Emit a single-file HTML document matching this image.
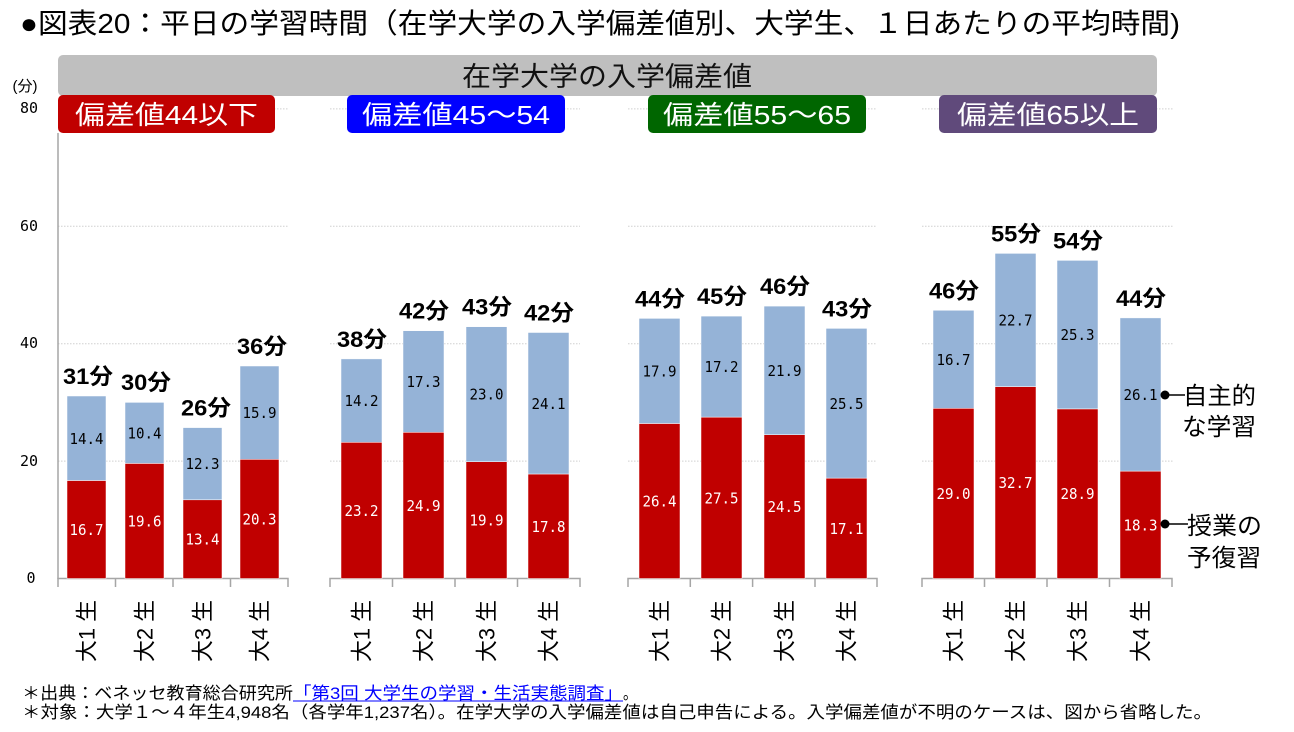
<!DOCTYPE html>
<html><head><meta charset="utf-8"><style>
html,body{margin:0;padding:0;background:#fff;}
svg{display:block;}
text{font-family:"Liberation Sans","Noto Sans CJK JP",sans-serif;}
.v{font-family:"DejaVu Sans Mono","Liberation Mono","Noto Sans CJK JP",monospace;font-size:15px;text-anchor:middle;}
.yt{font-family:"DejaVu Sans Mono","Liberation Mono",monospace;font-size:15px;text-anchor:middle;}
.w{fill:#fff;}
.t{font-weight:bold;font-size:22px;text-anchor:middle;}
.g{stroke:#d0d0d0;stroke-width:1;stroke-dasharray:1.5 1.5;}
.ax{stroke:#a6a6a6;stroke-width:1.5;fill:none;}
.xl{font-size:22px;text-anchor:middle;}
</style></head><body>
<svg width="1294" height="732" viewBox="0 0 1294 732" xmlns="http://www.w3.org/2000/svg">
<rect width="1294" height="732" fill="#fff"/>
<!-- title -->
<text x="20" y="33" font-size="28" textLength="1160" lengthAdjust="spacingAndGlyphs">●図表20：平日の学習時間（在学大学の入学偏差値別、大学生、１日あたりの平均時間)</text>

<!-- gridlines -->
<g class="g">
<line x1="58" y1="461.1" x2="288" y2="461.1"/><line x1="58" y1="343.7" x2="288" y2="343.7"/><line x1="58" y1="226.3" x2="288" y2="226.3"/><line x1="58" y1="108.9" x2="288" y2="108.9"/>
<line x1="330" y1="461.1" x2="580" y2="461.1"/><line x1="330" y1="343.7" x2="580" y2="343.7"/><line x1="330" y1="226.3" x2="580" y2="226.3"/><line x1="330" y1="108.9" x2="580" y2="108.9"/>
<line x1="628" y1="461.1" x2="877" y2="461.1"/><line x1="628" y1="343.7" x2="877" y2="343.7"/><line x1="628" y1="226.3" x2="877" y2="226.3"/><line x1="628" y1="108.9" x2="877" y2="108.9"/>
<line x1="922" y1="461.1" x2="1173" y2="461.1"/><line x1="922" y1="343.7" x2="1173" y2="343.7"/><line x1="922" y1="226.3" x2="1173" y2="226.3"/><line x1="922" y1="108.9" x2="1173" y2="108.9"/>
</g>

<!-- header boxes -->
<rect x="58" y="55" width="1099" height="41" rx="5" fill="#bfbfbf"/>
<text x="607" y="86" font-size="27" text-anchor="middle" textLength="290" lengthAdjust="spacingAndGlyphs" fill="#111">在学大学の入学偏差値</text>
<rect x="58" y="95" width="217" height="38" rx="5" fill="#c00000"/>
<text x="166.5" y="124" font-size="26" text-anchor="middle" fill="#fff" textLength="183" lengthAdjust="spacingAndGlyphs">偏差値44以下</text>
<rect x="347" y="95" width="218" height="38" rx="5" fill="#0000ff"/>
<text x="456" y="124" font-size="26" text-anchor="middle" fill="#fff" textLength="188" lengthAdjust="spacingAndGlyphs">偏差値45～54</text>
<rect x="648" y="95" width="218" height="38" rx="5" fill="#006600"/>
<text x="757" y="124" font-size="26" text-anchor="middle" fill="#fff" textLength="188" lengthAdjust="spacingAndGlyphs">偏差値55～65</text>
<rect x="939" y="95" width="218" height="38" rx="5" fill="#604a7b"/>
<text x="1048" y="124" font-size="26" text-anchor="middle" fill="#fff" textLength="182" lengthAdjust="spacingAndGlyphs">偏差値65以上</text>

<!-- y axis labels -->
<text x="25" y="91" font-size="15" text-anchor="middle">(分)</text>
<text class="yt" x="29" y="113">80</text>
<text class="yt" x="29" y="231">60</text>
<text class="yt" x="29" y="348">40</text>
<text class="yt" x="29" y="466">20</text>
<text class="yt" x="31" y="583">0</text>

<!-- axes -->
<line class="ax" x1="58" y1="133" x2="58" y2="579"/>
<path class="ax" d="M58,587V578.5H288V587M115.5,578.5V587M173,578.5V587M230.5,578.5V587"/>
<path class="ax" d="M330,587V578.5H580V587M392.5,578.5V587M455,578.5V587M517.5,578.5V587"/>
<path class="ax" d="M628,587V578.5H877V587M690.3,578.5V587M752.6,578.5V587M815,578.5V587"/>
<path class="ax" d="M922,587V578.5H1172V587M984.5,578.5V587M1047,578.5V587M1109.5,578.5V587"/>

<!-- bars -->
<g stroke="#ffffff" stroke-width="0.5">
<rect x="67" y="480.5" width="39" height="98" fill="#c00000"/><rect x="67" y="396.0" width="39" height="84.5" fill="#95b3d7"/>
<rect x="125" y="463.4" width="39" height="115.1" fill="#c00000"/><rect x="125" y="402.4" width="39" height="61" fill="#95b3d7"/>
<rect x="183" y="499.8" width="39" height="78.7" fill="#c00000"/><rect x="183" y="427.6" width="39" height="72.2" fill="#95b3d7"/>
<rect x="240" y="459.3" width="39" height="119.2" fill="#c00000"/><rect x="240" y="366.0" width="39" height="93.3" fill="#95b3d7"/>

<rect x="341" y="442.3" width="41" height="136.2" fill="#c00000"/><rect x="341" y="358.9" width="41" height="83.4" fill="#95b3d7"/>
<rect x="403" y="432.3" width="41" height="146.2" fill="#c00000"/><rect x="403" y="330.7" width="41" height="101.6" fill="#95b3d7"/>
<rect x="466" y="461.7" width="41" height="116.8" fill="#c00000"/><rect x="466" y="326.7" width="41" height="135" fill="#95b3d7"/>
<rect x="528" y="474.0" width="41" height="104.5" fill="#c00000"/><rect x="528" y="332.5" width="41" height="141.5" fill="#95b3d7"/>

<rect x="639" y="423.5" width="41" height="155" fill="#c00000"/><rect x="639" y="318.4" width="41" height="105.1" fill="#95b3d7"/>
<rect x="701" y="417.1" width="41" height="161.4" fill="#c00000"/><rect x="701" y="316.1" width="41" height="101" fill="#95b3d7"/>
<rect x="764" y="434.7" width="41" height="143.8" fill="#c00000"/><rect x="764" y="306.1" width="41" height="128.6" fill="#95b3d7"/>
<rect x="826" y="478.1" width="41" height="100.4" fill="#c00000"/><rect x="826" y="328.4" width="41" height="149.7" fill="#95b3d7"/>

<rect x="933" y="408.3" width="41" height="170.2" fill="#c00000"/><rect x="933" y="310.3" width="41" height="98" fill="#95b3d7"/>
<rect x="995" y="386.6" width="41" height="191.9" fill="#c00000"/><rect x="995" y="253.4" width="41" height="133.2" fill="#95b3d7"/>
<rect x="1057" y="408.9" width="41" height="169.6" fill="#c00000"/><rect x="1057" y="260.4" width="41" height="148.5" fill="#95b3d7"/>
<rect x="1120" y="471.1" width="41" height="107.4" fill="#c00000"/><rect x="1120" y="317.9" width="41" height="153.2" fill="#95b3d7"/>
</g>

<!-- value labels -->
<g>
<text class="v w" x="86.5" y="535" textLength="34" lengthAdjust="spacingAndGlyphs">16.7</text><text class="v" x="86.5" y="443.8" textLength="34" lengthAdjust="spacingAndGlyphs">14.4</text>
<text class="v w" x="144.5" y="526.5" textLength="34" lengthAdjust="spacingAndGlyphs">19.6</text><text class="v" x="144.5" y="438.4" textLength="34" lengthAdjust="spacingAndGlyphs">10.4</text>
<text class="v w" x="202.5" y="544.7" textLength="34" lengthAdjust="spacingAndGlyphs">13.4</text><text class="v" x="202.5" y="469.2" textLength="34" lengthAdjust="spacingAndGlyphs">12.3</text>
<text class="v w" x="259.5" y="524.4" textLength="34" lengthAdjust="spacingAndGlyphs">20.3</text><text class="v" x="259.5" y="418.2" textLength="34" lengthAdjust="spacingAndGlyphs">15.9</text>

<text class="v w" x="361.5" y="515.9" textLength="34" lengthAdjust="spacingAndGlyphs">23.2</text><text class="v" x="361.5" y="406.1" textLength="34" lengthAdjust="spacingAndGlyphs">14.2</text>
<text class="v w" x="423.5" y="510.9" textLength="34" lengthAdjust="spacingAndGlyphs">24.9</text><text class="v" x="423.5" y="387" textLength="34" lengthAdjust="spacingAndGlyphs">17.3</text>
<text class="v w" x="486.5" y="525.6" textLength="34" lengthAdjust="spacingAndGlyphs">19.9</text><text class="v" x="486.5" y="399.7" textLength="34" lengthAdjust="spacingAndGlyphs">23.0</text>
<text class="v w" x="548.5" y="531.8" textLength="34" lengthAdjust="spacingAndGlyphs">17.8</text><text class="v" x="548.5" y="408.8" textLength="34" lengthAdjust="spacingAndGlyphs">24.1</text>

<text class="v w" x="659.5" y="506.5" textLength="34" lengthAdjust="spacingAndGlyphs">26.4</text><text class="v" x="659.5" y="376.5" textLength="34" lengthAdjust="spacingAndGlyphs">17.9</text>
<text class="v w" x="721.5" y="503.3" textLength="34" lengthAdjust="spacingAndGlyphs">27.5</text><text class="v" x="721.5" y="372.1" textLength="34" lengthAdjust="spacingAndGlyphs">17.2</text>
<text class="v w" x="784.5" y="512.1" textLength="34" lengthAdjust="spacingAndGlyphs">24.5</text><text class="v" x="784.5" y="375.9" textLength="34" lengthAdjust="spacingAndGlyphs">21.9</text>
<text class="v w" x="846.5" y="533.8" textLength="34" lengthAdjust="spacingAndGlyphs">17.1</text><text class="v" x="846.5" y="408.8" textLength="34" lengthAdjust="spacingAndGlyphs">25.5</text>

<text class="v w" x="953.5" y="498.9" textLength="34" lengthAdjust="spacingAndGlyphs">29.0</text><text class="v" x="953.5" y="364.8" textLength="34" lengthAdjust="spacingAndGlyphs">16.7</text>
<text class="v w" x="1015.5" y="488.1" textLength="34" lengthAdjust="spacingAndGlyphs">32.7</text><text class="v" x="1015.5" y="325.5" textLength="34" lengthAdjust="spacingAndGlyphs">22.7</text>
<text class="v w" x="1077.5" y="499.2" textLength="34" lengthAdjust="spacingAndGlyphs">28.9</text><text class="v" x="1077.5" y="340.2" textLength="34" lengthAdjust="spacingAndGlyphs">25.3</text>
<text class="v w" x="1140.5" y="530.3" textLength="34" lengthAdjust="spacingAndGlyphs">18.3</text><text class="v" x="1140.5" y="400" textLength="34" lengthAdjust="spacingAndGlyphs">26.1</text>
</g>

<!-- totals -->
<g>
<text class="t" x="88" y="384" textLength="50" lengthAdjust="spacingAndGlyphs">31分</text>
<text class="t" x="146" y="390" textLength="50" lengthAdjust="spacingAndGlyphs">30分</text>
<text class="t" x="206" y="415.6" textLength="50" lengthAdjust="spacingAndGlyphs">26分</text>
<text class="t" x="262" y="354" textLength="50" lengthAdjust="spacingAndGlyphs">36分</text>

<text class="t" x="362" y="346.9" textLength="50" lengthAdjust="spacingAndGlyphs">38分</text>
<text class="t" x="424" y="318.7" textLength="50" lengthAdjust="spacingAndGlyphs">42分</text>
<text class="t" x="487" y="314.7" textLength="50" lengthAdjust="spacingAndGlyphs">43分</text>
<text class="t" x="549" y="320.5" textLength="50" lengthAdjust="spacingAndGlyphs">42分</text>

<text class="t" x="660" y="306.4" textLength="50" lengthAdjust="spacingAndGlyphs">44分</text>
<text class="t" x="722" y="304.1" textLength="50" lengthAdjust="spacingAndGlyphs">45分</text>
<text class="t" x="785" y="294.1" textLength="50" lengthAdjust="spacingAndGlyphs">46分</text>
<text class="t" x="847" y="316.4" textLength="50" lengthAdjust="spacingAndGlyphs">43分</text>

<text class="t" x="954" y="298.3" textLength="50" lengthAdjust="spacingAndGlyphs">46分</text>
<text class="t" x="1016" y="241.4" textLength="50" lengthAdjust="spacingAndGlyphs">55分</text>
<text class="t" x="1078" y="248.4" textLength="50" lengthAdjust="spacingAndGlyphs">54分</text>
<text class="t" x="1141" y="305.9" textLength="50" lengthAdjust="spacingAndGlyphs">44分</text>
</g>

<!-- x labels -->
<g>
<text class="xl" transform="translate(94.5,631) rotate(-90)" textLength="62" lengthAdjust="spacingAndGlyphs">大1 生</text>
<text class="xl" transform="translate(152.5,631) rotate(-90)" textLength="62" lengthAdjust="spacingAndGlyphs">大2 生</text>
<text class="xl" transform="translate(210.5,631) rotate(-90)" textLength="62" lengthAdjust="spacingAndGlyphs">大3 生</text>
<text class="xl" transform="translate(267.5,631) rotate(-90)" textLength="62" lengthAdjust="spacingAndGlyphs">大4 生</text>

<text class="xl" transform="translate(369.5,631) rotate(-90)" textLength="62" lengthAdjust="spacingAndGlyphs">大1 生</text>
<text class="xl" transform="translate(431.5,631) rotate(-90)" textLength="62" lengthAdjust="spacingAndGlyphs">大2 生</text>
<text class="xl" transform="translate(494.5,631) rotate(-90)" textLength="62" lengthAdjust="spacingAndGlyphs">大3 生</text>
<text class="xl" transform="translate(556.5,631) rotate(-90)" textLength="62" lengthAdjust="spacingAndGlyphs">大4 生</text>

<text class="xl" transform="translate(667.5,631) rotate(-90)" textLength="62" lengthAdjust="spacingAndGlyphs">大1 生</text>
<text class="xl" transform="translate(729.5,631) rotate(-90)" textLength="62" lengthAdjust="spacingAndGlyphs">大2 生</text>
<text class="xl" transform="translate(792.5,631) rotate(-90)" textLength="62" lengthAdjust="spacingAndGlyphs">大3 生</text>
<text class="xl" transform="translate(854.5,631) rotate(-90)" textLength="62" lengthAdjust="spacingAndGlyphs">大4 生</text>

<text class="xl" transform="translate(961.5,631) rotate(-90)" textLength="62" lengthAdjust="spacingAndGlyphs">大1 生</text>
<text class="xl" transform="translate(1023.5,631) rotate(-90)" textLength="62" lengthAdjust="spacingAndGlyphs">大2 生</text>
<text class="xl" transform="translate(1085.5,631) rotate(-90)" textLength="62" lengthAdjust="spacingAndGlyphs">大3 生</text>
<text class="xl" transform="translate(1148.5,631) rotate(-90)" textLength="62" lengthAdjust="spacingAndGlyphs">大4 生</text>
</g>

<!-- legend -->
<circle cx="1165" cy="395" r="4.5" fill="#000"/>
<line x1="1165" y1="395" x2="1185" y2="395" stroke="#000" stroke-width="1.5"/>
<text x="1183" y="404" font-size="24" textLength="73" lengthAdjust="spacingAndGlyphs">自主的</text>
<text x="1182" y="435" font-size="24" textLength="74" lengthAdjust="spacingAndGlyphs">な学習</text>
<circle cx="1165" cy="524" r="4.5" fill="#000"/>
<line x1="1165" y1="524" x2="1188" y2="524" stroke="#000" stroke-width="1.5"/>
<text x="1187" y="534" font-size="24" textLength="75" lengthAdjust="spacingAndGlyphs">授業の</text>
<text x="1187" y="566" font-size="24" textLength="74" lengthAdjust="spacingAndGlyphs">予復習</text>

<!-- footer -->
<text x="22" y="699" font-size="17" textLength="271" lengthAdjust="spacingAndGlyphs">＊出典：ベネッセ教育総合研究所</text>
<text x="293" y="699" font-size="17" fill="#0000ff" textLength="330" lengthAdjust="spacingAndGlyphs">「第3回 大学生の学習・生活実態調査」</text>
<line x1="293" y1="701" x2="623" y2="701" stroke="#0000ff" stroke-width="1"/>
<text x="623" y="699" font-size="17" textLength="14" lengthAdjust="spacingAndGlyphs">。</text>
<text x="22" y="718" font-size="17" textLength="1190" lengthAdjust="spacingAndGlyphs">＊対象：大学１～４年生4,948名（各学年1,237名）。在学大学の入学偏差値は自己申告による。入学偏差値が不明のケースは、図から省略した。</text>
</svg>
</body></html>
